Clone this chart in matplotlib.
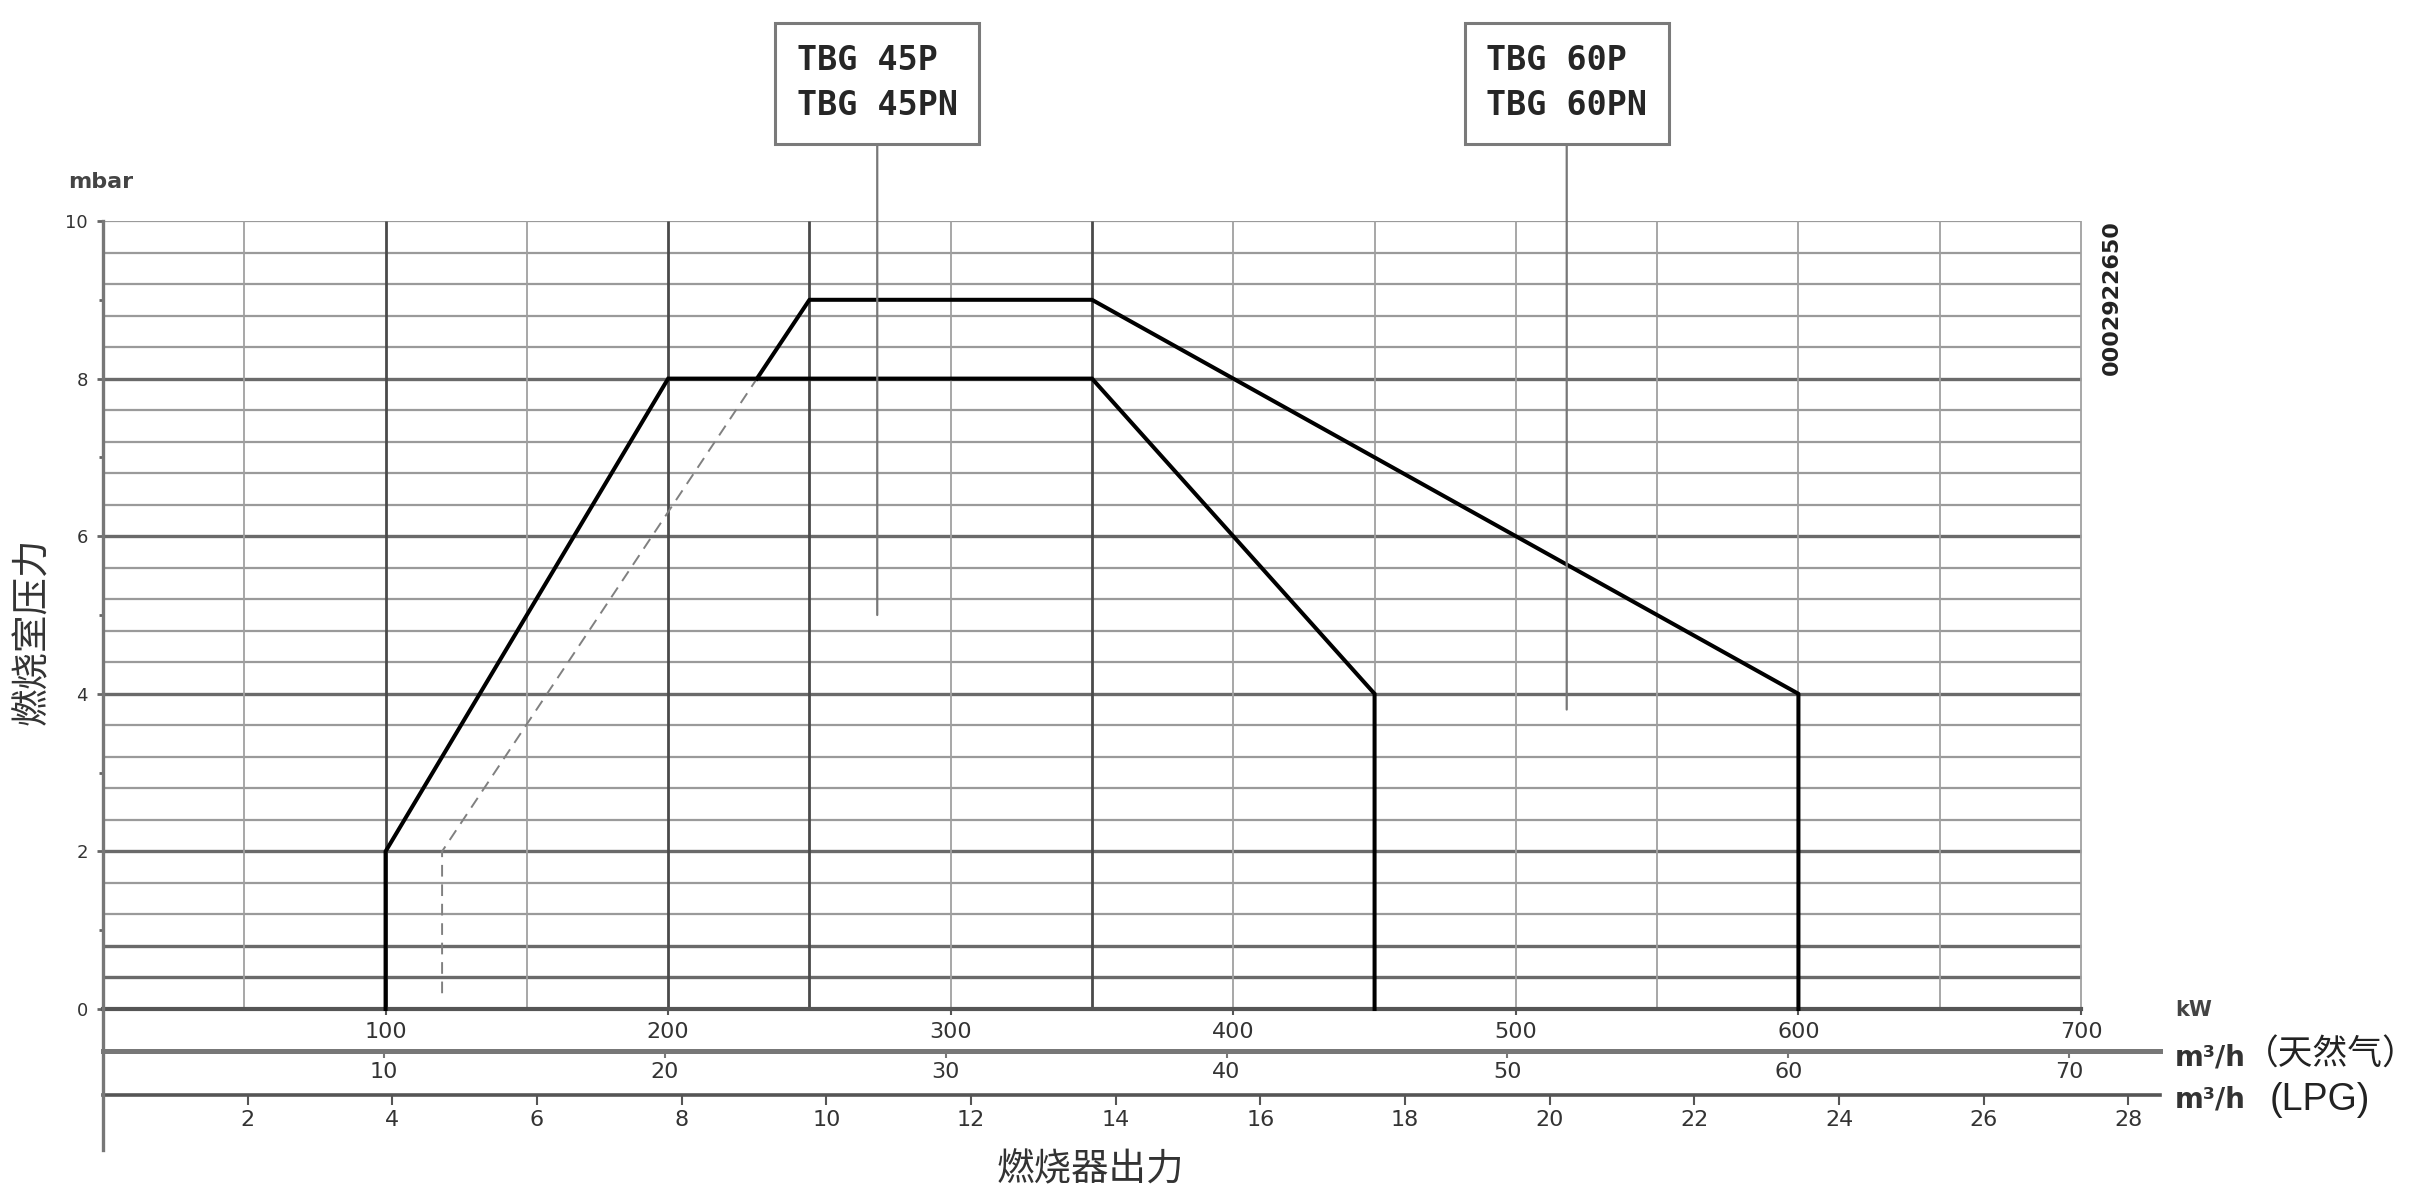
import numpy as np
import matplotlib
matplotlib.use("Agg")
import matplotlib.pyplot as plt
import matplotlib.patheffects as pe

# ---------------- data ----------------
tbg45_kw = [100, 100, 200, 350, 450, 450]
tbg45_mbar = [0, 2, 8, 8, 4, 0]

tbg60_kw = [120, 120, 250, 350, 600, 600]
tbg60_mbar = [0.2, 2, 9, 9, 4, 0]
tbg60_dash_below = 8.0          # rising branch of the 60P curve drawn dashed below this pressure

kw_ticks = [100, 200, 300, 400, 500, 600, 700]
ng_ticks = [10, 20, 30, 40, 50, 60, 70]
lpg_ticks = [2, 4, 6, 8, 10, 12, 14, 16, 18, 20, 22, 24, 26, 28]
y_ticks = [0, 2, 4, 6, 8, 10]
y_minor = [1, 3, 5, 7, 9]

NG_KW_PER_M3 = 9.94
LPG_KW_PER_M3 = 25.6

label_45 = "TBG 45P\nTBG 45PN"
label_60 = "TBG 60P\nTBG 60PN"
code_text = "0002922650"

# ---------------- layout ----------------
W, H = 2428, 1188
fig = plt.figure(figsize=(W / 100, H / 100), dpi=100)

x0_px, y10_px, y0_px = 103, 221, 1009
px_per_kw = (2081 - 103) / 700
xmax = 728
ax_w = xmax * px_per_kw
ax = fig.add_axes([x0_px / W, 1 - y0_px / H, ax_w / W, (y0_px - y10_px) / H])
ax.set_xlim(0, xmax)
ax.set_ylim(0, 10)
for s in ax.spines.values():
    s.set_visible(False)

cjk = ['Noto Sans CJK SC', 'DejaVu Sans']

# grid
h_levels = np.round(np.arange(0.4, 10.001, 0.4), 2)
heavy_h = [0.4, 0.8, 2.0, 4.0, 6.0, 8.0]
for lv in h_levels:
    heavy = any(abs(lv - h) < 1e-6 for h in heavy_h)
    ax.hlines(lv, 0, 700, color='#6a6a6a' if heavy else '#9a9a9a',
              lw=2.4 if heavy else 1.6, zorder=1)
v_levels = np.arange(50, 701, 50)
heavy_v = [100, 200, 250, 350]
for lv in v_levels:
    heavy = lv in heavy_v
    ax.vlines(lv, 0, 10, color='#4a4a4a' if heavy else '#a0a0a0',
              lw=2.0 if heavy else 1.3, zorder=1)

# zero line and y-axis line
ax.plot([0, 700], [0, 0], color='#555555', lw=3.0, clip_on=False, zorder=2)
ax.plot([0, 0], [-1.79, 10], color='#777777', lw=2.4, clip_on=False, zorder=2)

# curves
ax.plot(tbg45_kw, tbg45_mbar, color='black', lw=2.9, solid_joinstyle='miter',
        clip_on=False, zorder=4)

k60 = np.array(tbg60_kw, float)
m60 = np.array(tbg60_mbar, float)
split_kw = np.interp(tbg60_dash_below, m60[1:3], k60[1:3])
dash_k = list(k60[:2]) + [split_kw]
dash_m = list(m60[:2]) + [tbg60_dash_below]
solid_k = [split_kw] + list(k60[2:])
solid_m = [tbg60_dash_below] + list(m60[2:])
ax.plot(dash_k, dash_m, color='#808080', lw=1.4, ls=(0, (6, 4)), zorder=3)
ax.plot(solid_k, solid_m, color='black', lw=2.9, clip_on=False, zorder=4)

# y ticks
ax.set_yticks(y_ticks)
ax.set_yticks(y_minor, minor=True)
ax.tick_params(axis='y', which='major', direction='out', length=4, width=2,
               color='#666666', pad=7, labelsize=13, labelcolor='#333333')
ax.tick_params(axis='y', which='minor', direction='out', length=3, width=2,
               color='#666666')

# kW ticks
ax.set_xticks(kw_ticks)
ax.set_xticklabels([str(v) for v in kw_ticks])
ax.tick_params(axis='x', which='major', direction='out', length=4, width=1.5,
               color='#555555', pad=5, labelsize=16, labelcolor='#333333')

# natural gas axis
ng = ax.secondary_xaxis(-42 / (y0_px - y10_px),
                        functions=(lambda k: k / NG_KW_PER_M3, lambda n: n * NG_KW_PER_M3))
ng.set_xticks(ng_ticks)
ng.set_xticklabels([str(v) for v in ng_ticks])
ng.spines['bottom'].set_color('#777777')
ng.spines['bottom'].set_linewidth(3.6)
ng.tick_params(axis='x', direction='out', length=5, width=1.5, color='#777777',
               pad=3, labelsize=16, labelcolor='#333333')

# LPG axis
lpg = ax.secondary_xaxis(-86 / (y0_px - y10_px),
                         functions=(lambda k: k / LPG_KW_PER_M3, lambda n: n * LPG_KW_PER_M3))
lpg.set_xticks(lpg_ticks)
lpg.set_xticklabels([str(v) for v in lpg_ticks])
lpg.spines['bottom'].set_color('#555555')
lpg.spines['bottom'].set_linewidth(2.6)
lpg.tick_params(axis='x', direction='out', length=7, width=1.5, color='#555555',
                pad=4, labelsize=16, labelcolor='#333333')

# model boxes with leader lines
box_y = 11.75
for txt, bx, tip in [(label_45, 274, 5.0), (label_60, 518, 3.8)]:
    ann = ax.annotate(txt, xy=(bx, tip), xytext=(bx, box_y), textcoords='data',
                      ha='center', va='center', multialignment='left',
                      fontsize=24, family='DejaVu Sans Mono',
                      weight='bold', color='#262626', linespacing=1.45,
                      bbox=dict(boxstyle='square,pad=0.65', fc='white', ec='#7a7a7a', lw=2.2),
                      arrowprops=dict(arrowstyle='-', color='#777777', lw=1.6,
                                      relpos=(0.5, 0), shrinkA=0, shrinkB=0),
                      annotation_clip=False, zorder=5)
    ann.get_bbox_patch().set_path_effects(
        [pe.SimplePatchShadow(offset=(1.5, -1.5), shadow_rgbFace='#666666', alpha=0.9),
         pe.Normal()])

# texts
def fx(px):
    return px / W

def fy(py):
    return 1 - py / H

fig.text(fx(68), fy(182), "mbar", fontsize=16, weight='bold', color='#444444',
         ha='left', va='center')
fig.text(fx(33), fy(631), "燃烧室压力", fontsize=27, family=cjk, rotation=90,
         ha='center', va='center', color='#333333')
fig.text(fx(1090), fy(1170), "燃烧器出力", fontsize=27, family=cjk,
         ha='center', va='center', color='#333333')
fig.text(fx(2112), fy(298), code_text, fontsize=16, weight='bold', rotation=90,
         ha='center', va='center', color='#222222')
fig.text(fx(2175), fy(1010), "kW", fontsize=15, weight='bold', color='#444444',
         ha='left', va='center')
fig.text(fx(2175), fy(1057), "m³/h", fontsize=20, weight='bold', color='#333333',
         ha='left', va='center')
fig.text(fx(2244), fy(1055), "（天然气）", fontsize=25, family=cjk, color='#222222',
         ha='left', va='center')
fig.text(fx(2175), fy(1100), "m³/h", fontsize=20, weight='bold', color='#333333',
         ha='left', va='center')
fig.text(fx(2270), fy(1100), "(LPG)", fontsize=27, family=['Liberation Sans', 'DejaVu Sans'],
         color='#222222', ha='left', va='center')

fig.savefig("out.png", dpi=100, facecolor='white')
